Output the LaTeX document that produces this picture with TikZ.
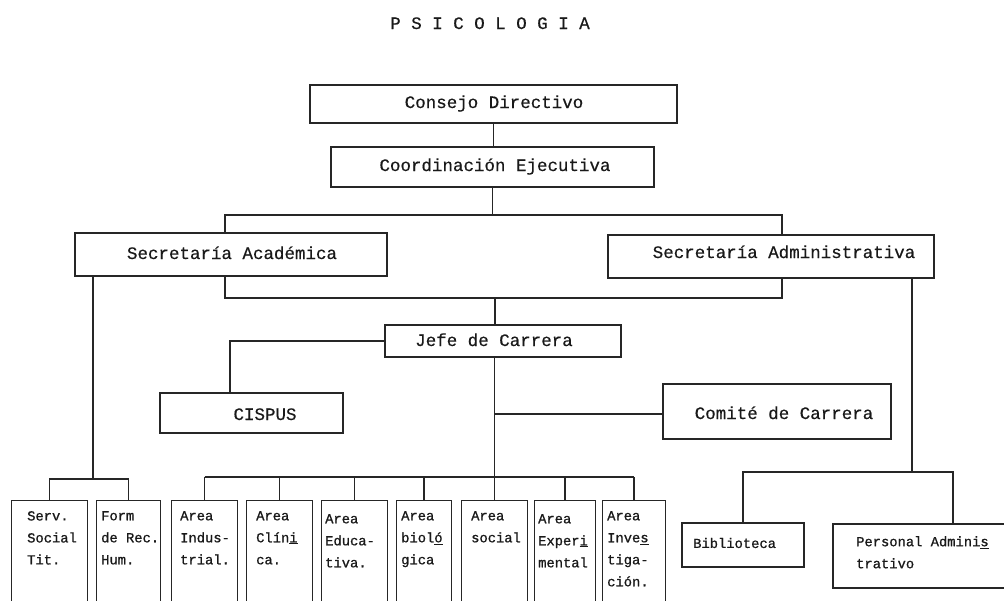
\documentclass[tikz,border=0pt]{standalone}
\usepackage{fontspec}
\newfontfamily\boxfont[FakeBold=0.4]{Liberation Mono}
\newfontfamily\areafont[FakeBold=0.8]{Liberation Mono}
\begin{document}
\begin{tikzpicture}[x=1pt,y=-1pt]
\tikzset{
  frame/.style={draw=black!85, line width=1.2pt, inner sep=0pt, anchor=center},
  aframe/.style={draw=black!85, line width=1.2pt, inner sep=0pt, anchor=north west, minimum height=130pt},
  lbl/.style={font=\boxfont\fontsize{17.5}{20}\selectfont, inner sep=0pt, anchor=base, text=black!90},
  atext/.style={font=\areafont\fontsize{13.8}{22}\selectfont, inner sep=0pt, anchor=north west, align=left, text=black!90},
  link/.style={draw=black!85, line width=1.6pt},
}
\useasboundingbox (0,0) rectangle (1004,600);
\clip (0,0) rectangle (1004,600);
\fill[white] (0,0) rectangle (1004,600);

% title
\node[lbl] (title) at (490,29) {P S I C O L O G I A};

% main boxes
\node[frame, minimum width=367pt, minimum height=38pt] (consejo) at (493.5,104) {};
\node[lbl] (consejot) at (494,108) {Consejo Directivo};
\node[frame, minimum width=323pt, minimum height=40pt] (coord) at (492.5,167) {};
\node[lbl] (coordt) at (495,171) {Coordinación Ejecutiva};
\node[frame, minimum width=312pt, minimum height=43pt] (secac) at (231,254.5) {};
\node[lbl] (secact) at (232,259) {Secretaría Académica};
\node[frame, minimum width=326pt, minimum height=43pt] (secadm) at (771,256.5) {};
\node[lbl] (secadmt) at (784,258) {Secretaría Administrativa};
\node[frame, minimum width=236pt, minimum height=32pt] (jefe) at (503,341) {};
\node[lbl] (jefet) at (494,346) {Jefe de Carrera};
\node[frame, minimum width=183pt, minimum height=40pt] (cispus) at (251.5,413) {};
\node[lbl] (cispust) at (265,420) {CISPUS};
\node[frame, minimum width=228pt, minimum height=55pt] (comite) at (777,411.5) {};
\node[lbl] (comitet) at (784,419) {Comité de Carrera};

% right branch boxes
\node[frame, minimum width=122pt, minimum height=44pt] (bib) at (743,545) {};
\node[atext, anchor=west] (bibt) at (693,543) {Biblioteca};
\node[frame, minimum width=190pt, minimum height=64pt] (pers) at (928,556) {};
\node[atext] (perst) at (856,536) {Personal Admini\underline{s}\\trativo};

% bottom area boxes
\node[aframe, minimum width=76pt] (serv) at (11,500) {};
\node[atext] (servt) at (27,511) {Serv.\\Social\\Tit.};
\node[aframe, minimum width=64pt] (form) at (96,500) {};
\node[atext] (formt) at (101,511) {Form\\de Rec.\\Hum.};
\node[aframe, minimum width=66pt] (ind) at (171,500) {};
\node[atext] (indt) at (180,511) {Area\\Indus-\\trial.};
\node[aframe, minimum width=66pt] (cli) at (246,500) {};
\node[atext] (clit) at (256,511) {Area\\Clín\underline{i}\\ca.};
\node[aframe, minimum width=66pt] (edu) at (321,500) {};
\node[atext] (edut) at (325,514) {Area\\Educa-\\tiva.};
\node[aframe, minimum width=55pt] (bio) at (396,500) {};
\node[atext] (biot) at (401,511) {Area\\biol\underline{ó}\\gica};
\node[aframe, minimum width=66pt] (soc) at (461,500) {};
\node[atext] (soct) at (471,511) {Area\\social};
\node[aframe, minimum width=61pt] (exp) at (534,500) {};
\node[atext] (expt) at (538,514) {Area\\Exper\underline{i}\\mental};
\node[aframe, minimum width=63pt] (inv) at (602,500) {};
\node[atext] (invt) at (607,511) {Area\\Inve\underline{s}\\tiga-\\ción.};

% connector coordinates
\coordinate (t1) at (225,215);
\coordinate (t2) at (782,215);
\coordinate (b1) at (225,298);
\coordinate (b2) at (782,298);
\coordinate (bm) at (495,298);
\coordinate (c1) at (230,341);
\coordinate (sf) at (93,479);
\coordinate (bus) at (0,477);
\coordinate (r1) at (912,472);
\coordinate (p1) at (953,472);
\coordinate (cm) at (0,414);

% connectors
\draw[link] (consejo.south) -- (consejo.south |- coord.north);
\draw[link] (coord.south) -- (coord.south |- t1);
\draw[link] (secac.north -| t1) -- (t1) -- (t2) -- (secadm.north -| t2);
\draw[link] (secac.south -| b1) -- (b1) -- (b2) -- (secadm.south -| b2);
\draw[link] (bm) -- (jefe.north -| bm);
\draw[link] (jefe.west |- c1) -- (c1) -- (cispus.north -| c1);
\draw[link] (jefe.south -| soc.north) -- (soc.north);
\draw[link] (comite.west |- cm) -- (soc.north |- cm);
\draw[link] (ind.north |- bus) -- (inv.north |- bus);
\draw[link] (ind.north) -- (ind.north |- bus);
\draw[link] (cli.north) -- (cli.north |- bus);
\draw[link] (edu.north) -- (edu.north |- bus);
\draw[link] (bio.north) -- (bio.north |- bus);
\draw[link] (exp.north) -- (exp.north |- bus);
\draw[link] (inv.north) -- (inv.north |- bus);
\draw[link] (secac.south -| sf) -- (sf);
\draw[link] (serv.north) -- (serv.north |- sf) -- (form.north |- sf) -- (form.north);
\draw[link] (secadm.south -| r1) -- (r1);
\draw[link] (bib.north) |- (p1) -- (pers.north -| p1);
\end{tikzpicture}
\end{document}
